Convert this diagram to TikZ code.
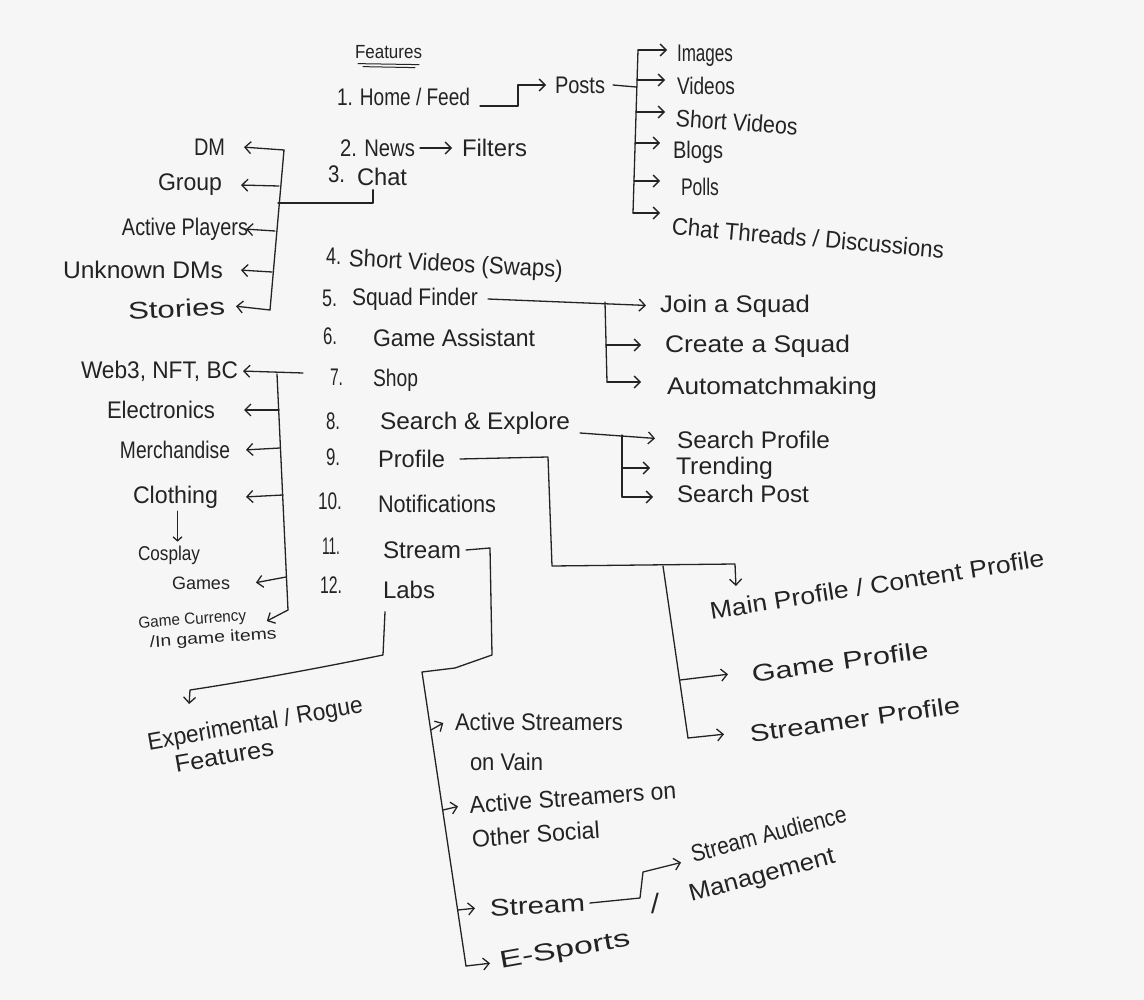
\documentclass[tikz,border=0pt]{standalone}
\usepackage{fontspec}
\usepackage{graphicx}
\setmainfont{Liberation Sans}
\usetikzlibrary{arrows.meta}
\definecolor{ink}{RGB}{35,35,35}
\definecolor{paper}{RGB}{246,246,246}
\newcommand\fw[2]{\resizebox{#1pt}{\height}{#2}}
\tikzset{
  lbl/.style={inner sep=0pt, outer sep=0pt, text=ink, font=\fontsize{24}{28}\selectfont},
  mid/.style={lbl, font=\fontsize{20}{24}\selectfont},
  sml/.style={lbl, font=\fontsize{16}{19}\selectfont},
  wire/.style={draw=ink, line width=1.3pt, line cap=round, line join=round},
  arr/.style={wire, -{Straight Barb[length=6pt,width=12pt]}, shorten >=2pt},
  arrs/.style={wire, -{Straight Barb[length=4pt,width=9pt]}},
}
\begin{document}
\begin{tikzpicture}[x=1pt,y=-1pt]
\fill[paper] (0,0) rectangle (1144,1000);
\useasboundingbox (0,0) rectangle (1144,1000);

% title
\node[lbl, anchor=west, font=\fontsize{19}{22}\selectfont] (feat) at (355,52) {\fw{67}{Features}};
\draw[wire, line width=1pt] ([shift={(3,5)}]feat.south west) -- ([shift={(-3,6)}]feat.south east);
\draw[wire, line width=1pt] ([shift={(8,8)}]feat.south west) -- ([shift={(-7,9)}]feat.south east);

% 1 Home / Feed -> Posts
\node[lbl, anchor=west] (home) at (337,97) {\fw{133}{1. Home / Feed}};
\node[lbl, anchor=west] (posts) at (555,85) {\fw{50}{Posts}};
\coordinate (hb) at (518,85);
\draw[arr, shorten >=9pt] ([shift={(10,9)}]home.east) -| (hb) -- (posts.west);

\coordinate (pt0) at (636,87);
\draw[wire] ([xshift=8pt]posts.east) -- (pt0);
\coordinate (pa) at (638,50);
\coordinate (pb) at (637,80);
\coordinate (pc) at (636,112);
\coordinate (pd) at (635,143);
\coordinate (pe) at (634,181);
\coordinate (pf) at (633,213);
\draw[wire] (pa) -- (pf);
\node[lbl, anchor=west] (images) at (677,56) {\fw{56}{Images}};
\node[lbl, anchor=west] (videos) at (677,86) {\fw{58}{Videos}};
\node[lbl, anchor=west, rotate=-4] (shortv) at (676,118) {\fw{122}{Short Videos}};
\node[lbl, anchor=west] (blogs) at (673,152) {\fw{50}{Blogs}};
\node[lbl, anchor=west] (polls) at (681,187) {\fw{38}{Polls}};
\node[lbl, anchor=west, rotate=-5] (chatth) at (672,226) {\fw{273}{Chat Threads / Discussions}};
\draw[arr, shorten >=10pt] (pa) -- (pa -| images.west);
\draw[arr, shorten >=12pt] (pb) -- (pb -| videos.west);
\draw[arr, shorten >=11pt] (pc) -- (pc -| shortv.west);
\draw[arr, shorten >=13pt] (pd) -- (pd -| blogs.west);
\draw[arr, shorten >=21pt] (pe) -- (pe -| polls.west);
\draw[arr, shorten >=12pt] (pf) -- (pf -| chatth.west);

% 2 News -> Filters
\node[lbl, anchor=west] (news) at (340,148) {\fw{75}{2. News}};
\node[lbl, anchor=west] (filters) at (462,148) {\fw{65}{Filters}};
\draw[arr, shorten <=5pt, shorten >=10pt] (news.east) -- (filters.west);

% 3 Chat
\node[lbl, anchor=west] (n3) at (328,174) {\fw{17}{3.}};
\node[lbl, anchor=west] (chat) at (357,177) {\fw{50}{Chat}};
\coordinate (lc) at (278,203);
\draw[wire] ([shift={(-9,4)}]chat.south) |- (lc);
\coordinate (ltA) at (284,150);
\coordinate (ltB) at (279,186);
\coordinate (ltC) at (275,231);
\coordinate (ltD) at (272,272);
\coordinate (ltE) at (270,310);
\draw[wire] (ltA) -- (ltE);
\node[lbl, anchor=east] (dm) at (225,147) {\fw{31}{DM}};
\node[lbl, anchor=east] (group) at (222,185) {\fw{64}{Group}};
\node[lbl, anchor=east] (ap) at (248,229) {\fw{126}{Active Players}};
\node[lbl, anchor=east] (udm) at (223,270) {\fw{160}{Unknown DMs}};
\node[lbl, anchor=east, rotate=3] (stories) at (225,306) {\fw{97}{Stories}};
\draw[arr] (ltA) -- ([xshift=17pt]dm.east);
\draw[arr] (ltB) -- ([xshift=17pt]group.east);
\draw[arr] (ltC) -- ([xshift=-4pt]ap.east);
\draw[arr] (ltD) -- ([xshift=16pt]udm.east);
\draw[arr] (ltE) -- ([xshift=9pt]stories.east);

% 4 - 12
\node[lbl, anchor=west] (n4) at (326,256) {\fw{15}{4.}};
\node[lbl, anchor=west, rotate=-3] (sv) at (349,260) {\fw{214}{Short Videos (Swaps)}};
\node[lbl, anchor=west] (n5) at (322,298) {\fw{15}{5.}};
\node[lbl, anchor=west] (squad) at (352,299) {\fw{126}{Squad Finder}};
\node[lbl, anchor=west] (n6) at (323,336) {\fw{14}{6.}};
\node[lbl, anchor=west] (ga) at (373,338) {\fw{162}{Game Assistant}};
\node[lbl, anchor=west] (n7) at (330,377) {\fw{13}{7.}};
\node[lbl, anchor=west] (shop) at (373,380) {\fw{45}{Shop}};
\node[lbl, anchor=west] (n8) at (326,421) {\fw{14}{8.}};
\node[lbl, anchor=west] (search) at (380,423) {\fw{190}{Search \& Explore}};
\node[lbl, anchor=west] (n9) at (326,457) {\fw{14}{9.}};
\node[lbl, anchor=west] (prof) at (378,459) {\fw{67}{Profile}};
\node[lbl, anchor=west] (n10) at (318,501) {\fw{24}{10.}};
\node[lbl, anchor=west] (notif) at (378,504) {\fw{118}{Notifications}};
\node[lbl, anchor=west] (n11) at (322,546) {\fw{18}{11.}};
\node[lbl, anchor=west] (stream) at (383,550) {\fw{78}{Stream}};
\node[lbl, anchor=west] (n12) at (320,585) {\fw{22}{12.}};
\node[lbl, anchor=west] (labs) at (383,590) {\fw{52}{Labs}};

% Squad Finder
\node[lbl, anchor=west] (join) at (660,306) {\fw{150}{Join a Squad}};
\node[lbl, anchor=west] (create) at (665,346) {\fw{185}{Create a Squad}};
\node[lbl, anchor=west] (auto) at (667,388) {\fw{210}{Automatchmaking}};
\draw[arr, shorten >=14pt] ([xshift=10pt]squad.east) -- (join.west);
\coordinate (sqA) at (605,302);
\coordinate (sqB) at (606,345);
\coordinate (sqC) at (607,382);
\draw[wire] (sqA) -- (sqC);
\draw[arr, shorten >=24pt] (sqB) -- (sqB -| create.west);
\draw[arr, shorten >=26pt] (sqC) -- (sqC -| auto.west);

% Shop
\coordinate (shA) at (303,373);
\node[lbl, anchor=east] (web) at (238,371) {\fw{157}{Web3, NFT, BC}};
\draw[arr] (shA) -- ([xshift=3pt]web.east);
\coordinate (sT1) at (277,374);
\coordinate (sT2) at (279,410);
\coordinate (sT3) at (280,448);
\coordinate (sT4) at (283,495);
\coordinate (sT5) at (286,577);
\coordinate (sT6) at (288,610);
\draw[wire] (sT1) -- (sT6);
\node[lbl, anchor=east] (elec) at (215,410) {\fw{108}{Electronics}};
\node[lbl, anchor=east] (merch) at (230,450) {\fw{110}{Merchandise}};
\node[lbl, anchor=east] (cloth) at (218,497) {\fw{85}{Clothing}};
\node[mid] (cos) at (169,555) {\fw{62}{Cosplay}};
\node[lbl, anchor=east, font=\fontsize{18}{22}\selectfont] (games) at (230,583) {\fw{58}{Games}};
\node[sml, anchor=north west, rotate=4, align=left, font=\fontsize{16}{20}\selectfont] (gc) at (138,617)
  {\fw{108}{Game Currency}\\\hspace*{10pt}\fw{127}{/In game items}};
\draw[arr] (sT2) -- ([xshift=27pt]elec.east);
\draw[arr] (sT3) -- ([xshift=14pt]merch.east);
\draw[arr] (sT4) -- ([xshift=26pt]cloth.east);
\draw[arrs, shorten <=3pt, shorten >=4pt] ([xshift=2pt]cloth.south) -- ([xshift=2pt]cloth.south |- cos.north);
\draw[arr] (sT5) -- ([xshift=24pt]games.east);
\draw[arr] (sT6) -- ([shift={(127,5)}]gc.north west);

% Search & Explore
\node[lbl, anchor=west] (sprof) at (677,440) {\fw{153}{Search Profile}};
\node[lbl, anchor=west] (trend) at (676,468) {\fw{97}{Trending}};
\node[lbl, anchor=west] (spost) at (677,494) {\fw{132}{Search Post}};
\draw[arr, shorten >=22pt] ([shift={(10,10)}]search.east) -- (sprof.west);
\coordinate (srA) at (622,435);
\coordinate (srB) at (622,468);
\coordinate (srC) at (622,497);
\draw[wire] (srA) -- (srC);
\draw[arr, shorten >=26pt] (srB) -- (srB -| trend.west);
\draw[arr, shorten >=24pt] (srC) -- (srC -| spost.west);

% Profile
\coordinate (prA) at (548,457);
\coordinate (prB) at (552,566);
\coordinate (prC) at (735,564);
\coordinate (prD) at (736,588);
\draw[arr] ([xshift=15pt]prof.east) -- (prA) -- (prB) -- (prC) -- (prD);
\node[lbl, anchor=west, rotate=9] (main) at (710,611) {\fw{338}{Main Profile / Content Profile}};
\coordinate (prE) at (663,566);
\coordinate (prF) at (688,738);
\coordinate (gpA) at (680,680);
\draw[wire] (prE) -- (prF);
\node[lbl, anchor=west, rotate=8] (gprof) at (752,674) {\fw{178}{Game Profile}};
\node[lbl, anchor=west, rotate=8] (stprof) at (750,734) {\fw{212}{Streamer Profile}};
\draw[arr] (gpA) -- ([xshift=-22pt]gprof.west);
\draw[arr] (prF) -- ([xshift=-24pt]stprof.west);

% Stream
\coordinate (stA) at (490,548);
\coordinate (stB) at (492,655);
\coordinate (stC) at (455,668);
\coordinate (stD) at (422,672);
\coordinate (stE) at (466,966);
\draw[wire] ([xshift=5pt]stream.east) -- (stA) -- (stB) -- (stC) -- (stD) -- (stE);
\coordinate (tA) at (431,730);
\coordinate (tB) at (443,810);
\coordinate (tC) at (458,910);
\node[lbl, anchor=west] (asv1) at (455,722) {\fw{168}{Active Streamers}};
\node[lbl, anchor=west] (asv2) at (470,762) {\fw{73}{on Vain}};
\node[lbl, anchor=north west, rotate=4, align=left, font=\fontsize{24}{34}\selectfont] (aso) at (469,796)
  {\fw{207}{Active Streamers on}\\\fw{128}{Other Social}};
\node[lbl, anchor=west, rotate=3] (strm) at (490,908) {\fw{95}{Stream}};
\node[lbl, anchor=west, rotate=10] (esp) at (500,963) {\fw{132}{E-Sports}};
\draw[arr] (tA) -- ([xshift=-10pt]asv1.west);
\draw[arr] (tB) -- ([shift={(-9,10)}]aso.north west);
\draw[arr] (tC) -- ([xshift=-13pt]strm.west);
\draw[arr] (stE) -- ([xshift=-8pt]esp.west);

\node[lbl, anchor=north west, rotate=15, align=left, font=\fontsize{24}{37}\selectfont] (sam) at (689,846)
  {\fw{160}{Stream Audience}\\\hspace*{-12pt}\fw{150}{Management}};
\node[lbl, font=\fontsize{28}{30}\selectfont] (slash) at (655,903) {/};
\coordinate (saA) at (640,898);
\coordinate (saB) at (643,872);
\draw[arr] ([xshift=5pt]strm.east) -- (saA) -- (saB) -- ([shift={(-6,16)}]sam.north west);

% Labs
\coordinate (lbA) at (383,655);
\coordinate (lbB) at (300,672);
\coordinate (lbC) at (230,684);
\coordinate (lbD) at (190,690);
\coordinate (lbE) at (189,706);
\draw[arr] ([shift={(2,13)}]labs.south west) -- (lbA) .. controls (lbB) and (lbC) .. (lbD) -- (lbE);
\node[lbl, anchor=north west, rotate=10, align=left, font=\fontsize{24}{27}\selectfont] (exp) at (146,733)
  {\fw{218}{Experimental / Rogue}\\\hspace*{23pt}\fw{100}{Features}};
\end{tikzpicture}
\end{document}
